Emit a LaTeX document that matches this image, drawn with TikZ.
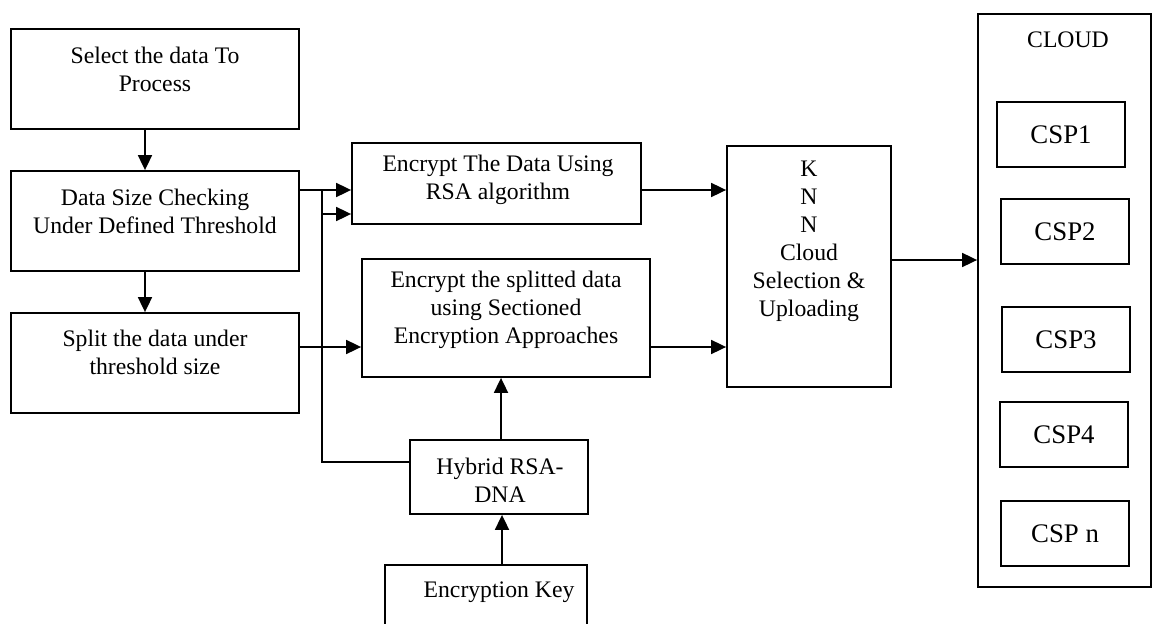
\documentclass[tikz,border=0pt]{standalone}
\usepackage{fontspec}
\setmainfont{Liberation Serif}
\usetikzlibrary{arrows.meta}
\begin{document}
\begin{tikzpicture}[x=1pt,y=-1pt,
  box/.style={draw=black, line width=1.8pt, rectangle, inner sep=0pt},
  txt/.style={align=center, inner sep=0pt, font=\fontsize{23.7}{28}\selectfont},
  csptxt/.style={font=\fontsize{26.8}{30}\selectfont},
  line/.style={draw=black, line width=1.8pt},
  arr/.style={line, -{Triangle[length=15pt,width=14pt]}}]
\clip (0,0) rectangle (1155,623);
\fill[white] (0,0) rectangle (1155,623);
% left column
\node[box, minimum width=288pt, minimum height=100pt] (sel) at (155,79) {};
\node[txt] (selt) at (155,69) {Select the data To\\Process};
\node[box, minimum width=288pt, minimum height=100pt] (data) at (155,221) {};
\node[txt] (datat) at (155,211) {Data Size Checking\\Under Defined Threshold};
\node[box, minimum width=288pt, minimum height=100pt] (split) at (155,363) {};
\node[txt] (splitt) at (155,352) {Split the data under\\threshold size};
% middle column
\node[box, minimum width=289pt, minimum height=81pt] (rsa) at (496.5,183.5) {};
\node[txt] (rsat) at (498,180) {Encrypt The Data Using\\RSA algorithm};
\node[box, minimum width=288pt, minimum height=118pt] (sect) at (506,318) {};
\node[txt] (sectt) at (506,310) {Encrypt the splitted data\\using Sectioned\\Encryption Approaches};
\node[box, minimum width=178pt, minimum height=74pt] (hyb) at (499,477) {};
\node[txt] (hybt) at (500,480) {Hybrid RSA-\\DNA};
\node[box, minimum width=202pt, minimum height=100pt] (key) at (486,615) {};
\node[txt] (keyt) at (499,592) {Encryption Key};
% KNN
\node[box, minimum width=164pt, minimum height=241pt] (knn) at (809,266.5) {};
\node[txt] (knnt) at (809,241.5) {K\\N\\N\\Cloud\\Selection \&\\Uploading};
% cloud
\node[box, minimum width=173pt, minimum height=573pt] (cloud) at (1064.5,300.5) {};
\node[txt] (cloudt) at (1068,40) {CLOUD};
\node[box, minimum width=128pt, minimum height=65pt] (c1) at (1061,134.5) {};
\node[csptxt] at (c1) {CSP1};
\node[box, minimum width=128pt, minimum height=65pt] (c2) at (1065,231.5) {};
\node[csptxt] at (c2) {CSP2};
\node[box, minimum width=128pt, minimum height=65pt] (c3) at (1066,339.5) {};
\node[csptxt] at (c3) {CSP3};
\node[box, minimum width=128pt, minimum height=65pt] (c4) at (1064,434.5) {};
\node[csptxt] at (c4) {CSP4};
\node[box, minimum width=128pt, minimum height=65pt] (cn) at (1065,533.5) {};
\node[csptxt] at (cn) {CSP n};
% junction coordinates
\coordinate (j1) at (322,190);
\coordinate (j2) at (322,214);
\coordinate (j3) at (322,462);
% connectors
\draw[arr] ([xshift=-10pt]sel.south) -- ([xshift=-10pt]data.north);
\draw[arr] ([xshift=-10pt]data.south) -- ([xshift=-10pt]split.north);
\draw[arr] (data.east |- j1) -- (rsa.west |- j1);
\draw[arr] (j2) -- (rsa.west |- j2);
\draw[line] (j1) -- (j3) -- (hyb.west |- j3);
\draw[arr] (split.east |- 0,347) -- (sect.west |- 0,347);
\draw[arr] (rsa.east |- j1) -- (knn.west |- j1);
\draw[arr] (sect.east |- 0,347) -- (knn.west |- 0,347);
\draw[arr] (knn.east |- 0,260) -- (cloud.west |- 0,260);
\draw[arr] ([xshift=2pt]hyb.north) -- ([xshift=2pt]hyb.north |- sect.south);
\draw[arr] ([xshift=3pt]hyb.south |- key.north) -- ([xshift=3pt]hyb.south);
\end{tikzpicture}
\end{document}
